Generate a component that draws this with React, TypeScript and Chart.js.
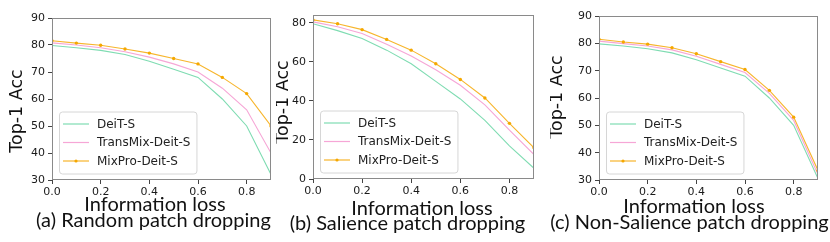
import React, { useEffect, useRef } from 'react';
import { Chart, registerables } from 'chart.js';
Chart.register(...registerables);

// ---------- data ----------
const INFO_LOSS = [0.0, 0.1, 0.2, 0.3, 0.4, 0.5, 0.6, 0.7, 0.8, 0.9];
const X_TICKS = [0.0, 0.2, 0.4, 0.6, 0.8];
const SERIES_NAMES = ['DeiT-S', 'TransMix-Deit-S', 'MixPro-Deit-S'];

// (a) Random patch dropping
const DEIT_RANDOM = [79.8, 79.0, 78.0, 76.5, 74.0, 71.0, 68.0, 60.0, 50.0, 32.0];
const TRANSMIX_RANDOM = [80.8, 80.0, 79.0, 77.5, 75.5, 73.0, 70.0, 64.0, 56.0, 40.0];
const MIXPRO_RANDOM = [81.6, 80.7, 79.9, 78.5, 77.0, 75.0, 73.0, 68.0, 62.0, 50.0];
const Y_TICKS_RANDOM = [30, 40, 50, 60, 70, 80, 90];

// (b) Salience patch dropping
const DEIT_SALIENCE = [79.5, 76.0, 72.0, 66.0, 59.0, 50.0, 41.0, 30.0, 17.0, 5.5];
const TRANSMIX_SALIENCE = [80.5, 78.0, 74.5, 69.0, 63.0, 56.0, 48.0, 38.0, 25.0, 12.5];
const MIXPRO_SALIENCE = [81.5, 79.5, 76.5, 71.5, 66.0, 59.0, 51.0, 41.5, 28.5, 16.0];
const Y_TICKS_SALIENCE = [0, 20, 40, 60, 80];

// (c) Non-Salience patch dropping
const DEIT_NONSAL = [79.8, 79.0, 78.0, 76.5, 74.0, 71.0, 68.0, 60.0, 50.0, 30.5];
const TRANSMIX_NONSAL = [80.8, 79.9, 79.0, 77.6, 75.3, 72.3, 69.3, 61.7, 51.8, 32.0];
const MIXPRO_NONSAL = [81.5, 80.5, 79.7, 78.4, 76.2, 73.3, 70.4, 62.8, 53.0, 33.5];
const Y_TICKS_NONSAL = [30, 40, 50, 60, 70, 80, 90];

const CAPTIONS = [
  '(a) Random patch dropping',
  '(b) Salience patch dropping',
  '(c) Non-Salience patch dropping',
];
const X_TITLE = 'Information loss';
const Y_TITLE = 'Top-1 Acc';

// ---------- styles ----------
const COLORS = ['#7fdcb2', '#f6a6d6', '#f7b52c'];
const MARKER_COLOR = '#f5a800';
const H = 242;
const TICK_FONT = "'DejaVu Sans', sans-serif";
const LABEL_FONT = "Lato, 'Liberation Sans', sans-serif";

type PanelCfg = {
  left: number;
  width: number;
  area: { left: number; right: number; top: number; bottom: number };
  yMin: number;
  yMax: number;
  yTicks: number[];
  data: number[][];
  caption: string;
  yTitle: { x: number; y: number };
  xTitle: { x: number; y: number };
  cap: { x: number; y: number };
};

const PANELS: PanelCfg[] = [
  {
    left: 0, width: 276,
    area: { left: 52, right: 271, top: 18, bottom: 180 },
    yMin: 30, yMax: 90, yTicks: Y_TICKS_RANDOM,
    data: [DEIT_RANDOM, TRANSMIX_RANDOM, MIXPRO_RANDOM],
    caption: CAPTIONS[0],
    yTitle: { x: 22, y: 111 }, xTitle: { x: 155, y: 211 }, cap: { x: 153.5, y: 227 },
  },
  {
    left: 276, width: 274,
    area: { left: 313, right: 534, top: 15, bottom: 179 },
    yMin: 0, yMax: 84, yTicks: Y_TICKS_SALIENCE,
    data: [DEIT_SALIENCE, TRANSMIX_SALIENCE, MIXPRO_SALIENCE],
    caption: CAPTIONS[1],
    yTitle: { x: 288, y: 102 }, xTitle: { x: 422, y: 215 }, cap: { x: 407.5, y: 230 },
  },
  {
    left: 550, width: 280,
    area: { left: 599, right: 818, top: 16, bottom: 180 },
    yMin: 30, yMax: 90, yTicks: Y_TICKS_NONSAL,
    data: [DEIT_NONSAL, TRANSMIX_NONSAL, MIXPRO_NONSAL],
    caption: CAPTIONS[2],
    yTitle: { x: 562, y: 97 }, xTitle: { x: 694, y: 213 }, cap: { x: 689.5, y: 229 },
  },
];

function makePlugin(p: PanelCfg) {
  const ox = p.left;
  return {
    id: 'decor',
    afterDatasetsDraw(chart: any) {
      const ctx = chart.ctx as CanvasRenderingContext2D;
      const a = chart.chartArea;
      ctx.save();
      // frame
      ctx.strokeStyle = '#8a8a8a';
      ctx.lineWidth = 1;
      ctx.strokeRect(Math.round(a.left) + 0.5, Math.round(a.top) + 0.5,
        Math.round(a.right - a.left) - 1, Math.round(a.bottom - a.top) - 1);
      // legend
      ctx.font = `12px ${TICK_FONT}`;
      const maxW = Math.max(...SERIES_NAMES.map((n) => ctx.measureText(n).width));
      const bx = a.left + 7;
      const bBottom = a.bottom - 6.5;
      const rowH = 18.5;
      const bh = rowH * 2 + 25;
      const by = bBottom - bh;
      const bw = 38 + maxW + 6;
      ctx.fillStyle = 'rgba(255,255,255,0.85)';
      ctx.strokeStyle = '#d6d6d6';
      ctx.beginPath();
      (ctx as any).roundRect(bx + 0.5, by + 0.5, bw, bh, 3);
      ctx.fill();
      ctx.stroke();
      SERIES_NAMES.forEach((name, i) => {
        const cy = by + 12.5 + i * rowH;
        ctx.strokeStyle = COLORS[i];
        ctx.lineWidth = 1.2;
        ctx.beginPath();
        ctx.moveTo(bx + 4, cy);
        ctx.lineTo(bx + 30, cy);
        ctx.stroke();
        if (i === 2) {
          ctx.fillStyle = MARKER_COLOR;
          ctx.beginPath();
          ctx.arc(bx + 17, cy, 1.6, 0, Math.PI * 2);
          ctx.fill();
        }
        ctx.fillStyle = '#222';
        ctx.textBaseline = 'middle';
        ctx.textAlign = 'left';
        ctx.fillText(name, bx + 38, cy + 0.5);
      });
      ctx.restore();
    },
    afterDraw(chart: any) {
      const ctx = chart.ctx as CanvasRenderingContext2D;
      ctx.save();
      ctx.fillStyle = '#111';
      ctx.textBaseline = 'alphabetic';
      ctx.textAlign = 'center';
      ctx.font = `20px ${LABEL_FONT}`;
      ctx.fillText(X_TITLE, p.xTitle.x - ox, p.xTitle.y);
      ctx.fillText(p.caption, p.cap.x - ox, p.cap.y);
      ctx.translate(p.yTitle.x - ox, p.yTitle.y);
      ctx.rotate(-Math.PI / 2);
      ctx.font = `17.5px ${TICK_FONT}`;
      ctx.fillText(Y_TITLE, 0, 0);
      ctx.restore();
    },
  };
}

function Panel({ p }: { p: PanelCfg }) {
  const ref = useRef<HTMLCanvasElement>(null);
  useEffect(() => {
    if (!ref.current) return;
    const datasets = SERIES_NAMES.map((name, i) => ({
      label: name,
      data: INFO_LOSS.map((x, j) => ({ x, y: p.data[i][j] })),
      borderColor: COLORS[i],
      backgroundColor: i === 2 ? MARKER_COLOR : COLORS[i],
      borderWidth: 1.1,
      pointRadius: i === 2 ? 1.7 : 0,
      pointBorderWidth: 0,
      pointBackgroundColor: MARKER_COLOR,
      tension: 0,
      order: 3 - i,
    }));
    const tickGrid = {
      display: true,
      drawOnChartArea: false,
      drawTicks: true,
      tickLength: 4,
      color: '#444',
    };
    const chart = new Chart(ref.current, {
      type: 'line',
      data: { datasets },
      options: {
        animation: false,
        responsive: false,
        devicePixelRatio: 1,
        layout: {
          padding: { left: 0, bottom: 0, top: p.area.top, right: p.left + p.width - p.area.right },
        },
        plugins: { legend: { display: false }, tooltip: { enabled: false } },
        scales: {
          x: {
            type: 'linear',
            min: 0,
            max: 0.9,
            afterBuildTicks: (s: any) => { s.ticks = X_TICKS.map((v) => ({ value: v })); },
            afterFit: (s: any) => { s.height = H - p.area.bottom; },
            ticks: {
              callback: (v: any) => Number(v).toFixed(1),
              font: { family: TICK_FONT, size: 11 },
              color: '#1a1a1a',
              padding: 2,
              maxRotation: 0,
            },
            grid: tickGrid,
            border: { display: false },
          },
          y: {
            type: 'linear',
            min: p.yMin,
            max: p.yMax,
            afterBuildTicks: (s: any) => { s.ticks = p.yTicks.map((v) => ({ value: v })); },
            afterFit: (s: any) => { s.width = p.area.left - p.left; },
            ticks: {
              font: { family: TICK_FONT, size: 11 },
              color: '#1a1a1a',
              padding: 3,
            },
            grid: tickGrid,
            border: { display: false },
          },
        },
      },
      plugins: [makePlugin(p)],
    } as any);
    return () => chart.destroy();
  }, [p]);
  return (
    <canvas
      ref={ref}
      width={p.width}
      height={H}
      style={{ position: 'absolute', left: p.left, top: 0, width: p.width, height: H }}
    />
  );
}

export default function App() {
  return (
    <div style={{ position: 'fixed', left: 0, top: 0, width: 830, height: H, background: '#fff', overflow: 'hidden' }}>
      {PANELS.map((p, i) => (
        <Panel key={i} p={p} />
      ))}
    </div>
  );
}
